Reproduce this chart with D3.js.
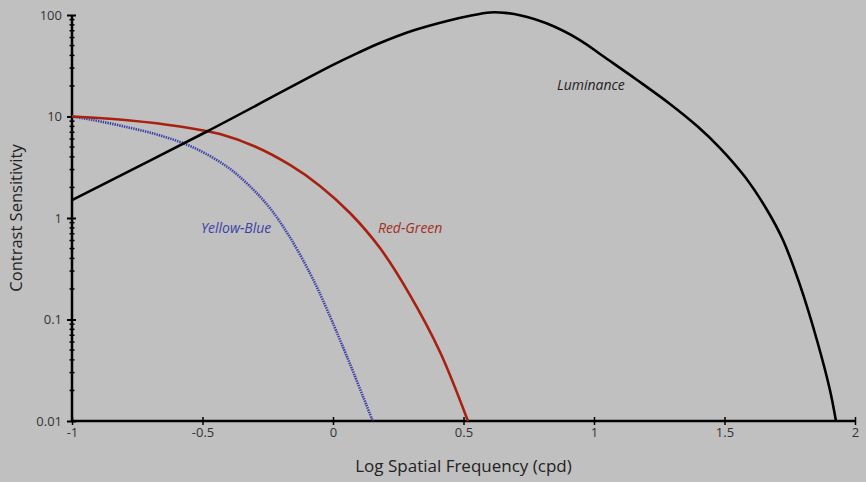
<!DOCTYPE html>
<html><head><meta charset="utf-8">
<script src="https://cdn.jsdelivr.net/npm/d3@7"></script>
<style>
html,body{margin:0;padding:0;background:#c0c0c0;}
svg{display:block;}
</style></head>
<body>
<svg id="chart" width="866" height="482"></svg>
<script>
// Log spatial frequency (x) and contrast sensitivity (y)
const lumX = [-1, -0.483, 0, 0.103, 0.18, 0.307, 0.437, 0.525, 0.602, 0.659, 0.716, 0.82, 0.946, 1.034, 1.165, 1.291, 1.395, 1.483, 1.579, 1.663, 1.724, 1.789, 1.854, 1.904, 1.927];
const lumY = [1.5, 7.12, 32.2, 43.2, 53, 70.4, 87.5, 98.5, 106, 105, 99.5, 82.4, 56.7, 39.4, 22.9, 13.3, 8.06, 4.89, 2.53, 1.2, 0.607, 0.219, 0.0628, 0.0202, 0.01];
const rgX = [-1, -0.778, -0.586, -0.433, -0.299, -0.165, -0.05, 0.065, 0.18, 0.295, 0.41, 0.517];
const rgY = [10, 9.14, 7.97, 6.72, 5.06, 3.33, 2.07, 1.12, 0.506, 0.174, 0.0479, 0.01];
const ybX = [-1, -0.92, -0.789, -0.663, -0.536, -0.406, -0.318, -0.241, -0.165, -0.088, -0.038, 0.065, 0.152];
const ybY = [10, 9.24, 7.86, 6.51, 4.97, 3.2, 2.05, 1.246, 0.645, 0.285, 0.1535, 0.0365, 0.01];
const xTicks = [-1, -0.5, 0, 0.5, 1, 1.5, 2];
const xTickLabels = ["-1", "-0.5", "0", "0.5", "1", "1.5", "2"];
const yTicks = [0.01, 0.1, 1, 10, 100];
const yTickLabels = ["0.01", "0.1", "1", "10", "100"];
const seriesNames = ["Luminance", "Red-Green", "Yellow-Blue"];

const svg = d3.select("#chart");
const margin = {left: 72, right: 11, top: 15, bottom: 61};
const W = 866, H = 482;
const x = d3.scaleLinear().domain([-1, 2]).range([margin.left, W - margin.right]);
const y = d3.scaleLog().domain([0.01, 100]).range([H - margin.bottom, margin.top]);

svg.append("rect").attr("width", W).attr("height", H).attr("fill", "#c0c0c0");

const font = "'Open Sans', sans-serif";

// minor y ticks
const minor = [];
for (let d = 0.01; d < 100; d *= 10) for (let k = 2; k <= 9; k++) minor.push(d * k);
svg.append("g").selectAll("line").data(minor).join("line")
  .attr("x1", x(-1) - 2.5).attr("x2", x(-1) + 2.5)
  .attr("y1", d => y(d)).attr("y2", d => y(d))
  .attr("stroke", "#000").attr("stroke-width", 1.5);

// y axis
const yAxis = d3.axisLeft(y).tickValues(yTicks).tickFormat((d, i) => yTickLabels[i]).tickSize(5).tickPadding(4);
const gy = svg.append("g").attr("transform", `translate(${x(-1)},0)`).call(yAxis);
gy.select(".domain").remove();
gy.selectAll(".tick line").attr("x1", -5).attr("x2", 4).attr("stroke", "#000").attr("stroke-width", 2);
gy.selectAll(".tick text").attr("font-family", font).attr("font-size", 13).attr("fill", "#333").attr("dx", "-1");
svg.append("line").attr("x1", x(-1)).attr("x2", x(-1)).attr("y1", y(100)).attr("y2", y(0.01))
  .attr("stroke", "#000").attr("stroke-width", 2.5);

// x axis
const xAxis = d3.axisBottom(x).tickValues(xTicks).tickFormat((d, i) => xTickLabels[i]).tickSize(4).tickPadding(3);
const gx = svg.append("g").attr("transform", `translate(0,${y(0.01)})`).call(xAxis);
gx.select(".domain").remove();
gx.selectAll(".tick line").attr("y1", -4).attr("y2", 4).attr("stroke", "#000").attr("stroke-width", 1.5);
gx.selectAll(".tick text").attr("font-family", font).attr("font-size", 13).attr("fill", "#333");
svg.append("line").attr("x1", x(-1)).attr("x2", x(2)).attr("y1", y(0.01)).attr("y2", y(0.01))
  .attr("stroke", "#000").attr("stroke-width", 2.5);

// curves
const line = d3.line().x(d => x(d[0])).y(d => y(d[1])).curve(d3.curveCatmullRom.alpha(0.5));
const lum = lumX.map((v, i) => [v, lumY[i]]);
const rg = rgX.map((v, i) => [v, rgY[i]]);
const yb = ybX.map((v, i) => [v, ybY[i]]);

svg.append("path").datum(yb).attr("d", line).attr("fill", "none")
  .attr("stroke", "#3b3fa8").attr("stroke-width", 2.6).attr("stroke-dasharray", "1.4,1");
svg.append("path").datum(rg).attr("d", line).attr("fill", "none")
  .attr("stroke", "#a8200f").attr("stroke-width", 2.6);
svg.append("path").datum(lum).attr("d", line).attr("fill", "none")
  .attr("stroke", "#000").attr("stroke-width", 2.6);

// series labels
svg.append("text").attr("x", x(0.858)).attr("y", y(18.2)).text(seriesNames[0])
  .attr("font-family", font).attr("font-style", "italic").attr("font-size", 14).attr("fill", "#222");
svg.append("text").attr("x", x(0.172)).attr("y", y(0.71)).text(seriesNames[1])
  .attr("font-family", font).attr("font-style", "italic").attr("font-size", 14).attr("fill", "#a0301f");
svg.append("text").attr("x", x(-0.506)).attr("y", y(0.71)).text(seriesNames[2])
  .attr("font-family", font).attr("font-style", "italic").attr("font-size", 14).attr("fill", "#3b3fa8");

// axis titles
svg.append("text").attr("x", (x(-1) + x(2)) / 2).attr("y", 472).attr("text-anchor", "middle")
  .attr("font-family", font).attr("font-size", 17).attr("fill", "#222").text("Log Spatial Frequency (cpd)");
svg.append("text").attr("transform", `translate(22,${(y(100)+y(0.01))/2}) rotate(-90)`).attr("text-anchor", "middle")
  .attr("font-family", font).attr("font-size", 16.5).attr("fill", "#222").text("Contrast Sensitivity");
</script>
</body></html>
